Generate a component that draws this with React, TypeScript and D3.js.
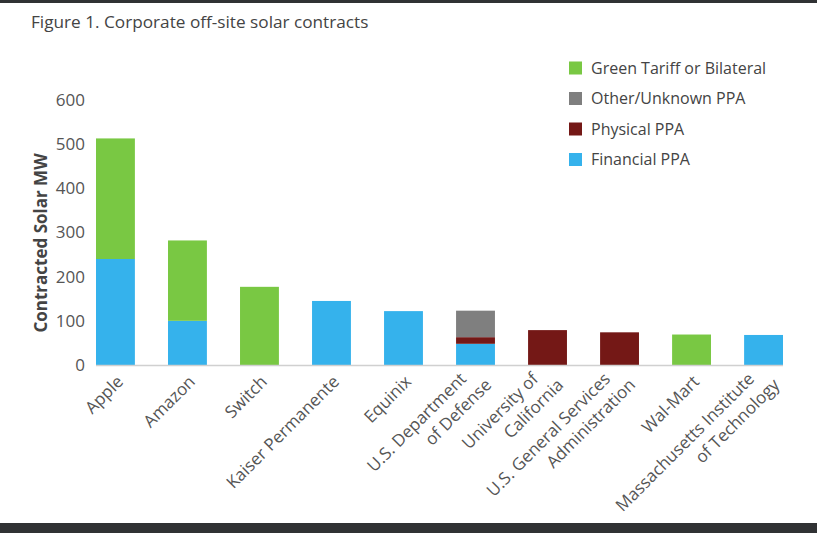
import React from "react";
import * as d3 from "d3";

const categories = [
  "Apple",
  "Amazon",
  "Switch",
  "Kaiser Permanente",
  "Equinix",
  "U.S. Department of Defense",
  "University of California",
  "U.S. General Services Administration",
  "Wal-Mart",
  "Massachusetts Institute of Technology",
];
const categoryLines: string[][] = [
  ["Apple"],
  ["Amazon"],
  ["Switch"],
  ["Kaiser Permanente"],
  ["Equinix"],
  ["U.S. Department", "of Defense"],
  ["University of", "California"],
  ["U.S. General Services", "Administration"],
  ["Wal-Mart"],
  ["Massachusetts Institute", "of Technology"],
];
const financialPPA = [240, 100, 0, 145, 122, 48, 0, 0, 0, 68];
const physicalPPA = [0, 0, 0, 0, 0, 15, 79, 74, 0, 0];
const otherPPA = [0, 0, 0, 0, 0, 60, 0, 0, 0, 0];
const greenTariff = [273, 182, 177, 0, 0, 0, 0, 0, 69, 0];
const yTicks = [0, 100, 200, 300, 400, 500, 600];

const seriesKeys = ["financial", "physical", "other", "green"];
const seriesColors: Record<string, string> = {
  financial: "#35b2ec",
  physical: "#741816",
  other: "#7f7f7f",
  green: "#79c843",
};
const legendItems = [
  { key: "green", label: "Green Tariff or Bilateral" },
  { key: "other", label: "Other/Unknown PPA" },
  { key: "physical", label: "Physical PPA" },
  { key: "financial", label: "Financial PPA" },
];

const W = 817;
const H = 533;
const FONT = "'Open Sans', 'Noto Sans', sans-serif";

export default function App() {
  const rows = categories.map((c, i) => ({
    name: c,
    financial: financialPPA[i],
    physical: physicalPPA[i],
    other: otherPPA[i],
    green: greenTariff[i],
  }));
  const stack = d3.stack<any>().keys(seriesKeys);
  const series = stack(rows);

  const x = d3
    .scaleBand<string>()
    .domain(categories)
    .range([96, 783])
    .paddingInner(0.46)
    .paddingOuter(0);
  const y = d3.scaleLinear().domain([0, 600]).range([365, 100]);

  return (
    <svg
      width={W}
      height={H}
      style={{ position: "fixed", left: 0, top: 0, background: "#fff" }}
      fontFamily={FONT}
    >
      <rect x={0} y={0} width={W} height={H} fill="#fff" />
      <rect x={0} y={0} width={W} height={3} fill="#303234" />
      <rect x={0} y={523} width={W} height={10} fill="#303234" />

      <text x={31} y={28} fontSize={17.2} fill="#444">
        Figure 1. Corporate off-site solar contracts
      </text>

      {/* bars */}
      {series.map((s) => (
        <g key={s.key} fill={seriesColors[s.key]}>
          {s.map((d, i) =>
            d[1] - d[0] > 0 ? (
              <rect
                key={i}
                x={x(categories[i])}
                y={y(d[1])}
                width={x.bandwidth()}
                height={y(d[0]) - y(d[1])}
              />
            ) : null
          )}
        </g>
      ))}

      {/* x axis line */}
      <line
        x1={x.range()[0]}
        x2={x.range()[1]}
        y1={y(0) + 0.5}
        y2={y(0) + 0.5}
        stroke="#d0d0d0"
        strokeWidth={1.5}
      />

      {/* y ticks */}
      {yTicks.map((t) => (
        <text
          key={t}
          x={85}
          y={y(t)}
          dy="0.35em"
          textAnchor="end"
          fontSize={17}
          fill="#555"
        >
          {t}
        </text>
      ))}

      {/* y title */}
      <text
        transform={`translate(47, 243) rotate(-90)`}
        textAnchor="middle"
        fontSize={17}
        fontWeight="bold"
        fill="#444"
      >
        Contracted Solar MW
      </text>

      {/* x labels */}
      {categoryLines.map((lines, i) => {
        const cx = (x(categories[i]) as number) + x.bandwidth() / 2;
        const two = lines.length > 1;
        return (
          <g key={i} transform={`translate(${cx + 1}, ${y(0) + 10}) rotate(-45)`}>
            {lines.map((ln, j) => (
              <text
                key={j}
                x={two ? (j === 0 ? -10 : 3.5) : 0}
                y={two ? (j === 0 ? -3 : 19) : 11}
                textAnchor="end"
                fontSize={17}
                fill="#555"
              >
                {ln}
              </text>
            ))}
          </g>
        );
      })}

      {/* legend */}
      {legendItems.map((it, i) => (
        <g key={it.key} transform={`translate(569, ${68 + i * 30.5})`}>
          <rect x={0} y={-6.5} width={13} height={13} fill={seriesColors[it.key]} />
          <text x={22} y={0} dy="0.35em" fontSize={16} fill="#444">
            {it.label}
          </text>
        </g>
      ))}
    </svg>
  );
}
